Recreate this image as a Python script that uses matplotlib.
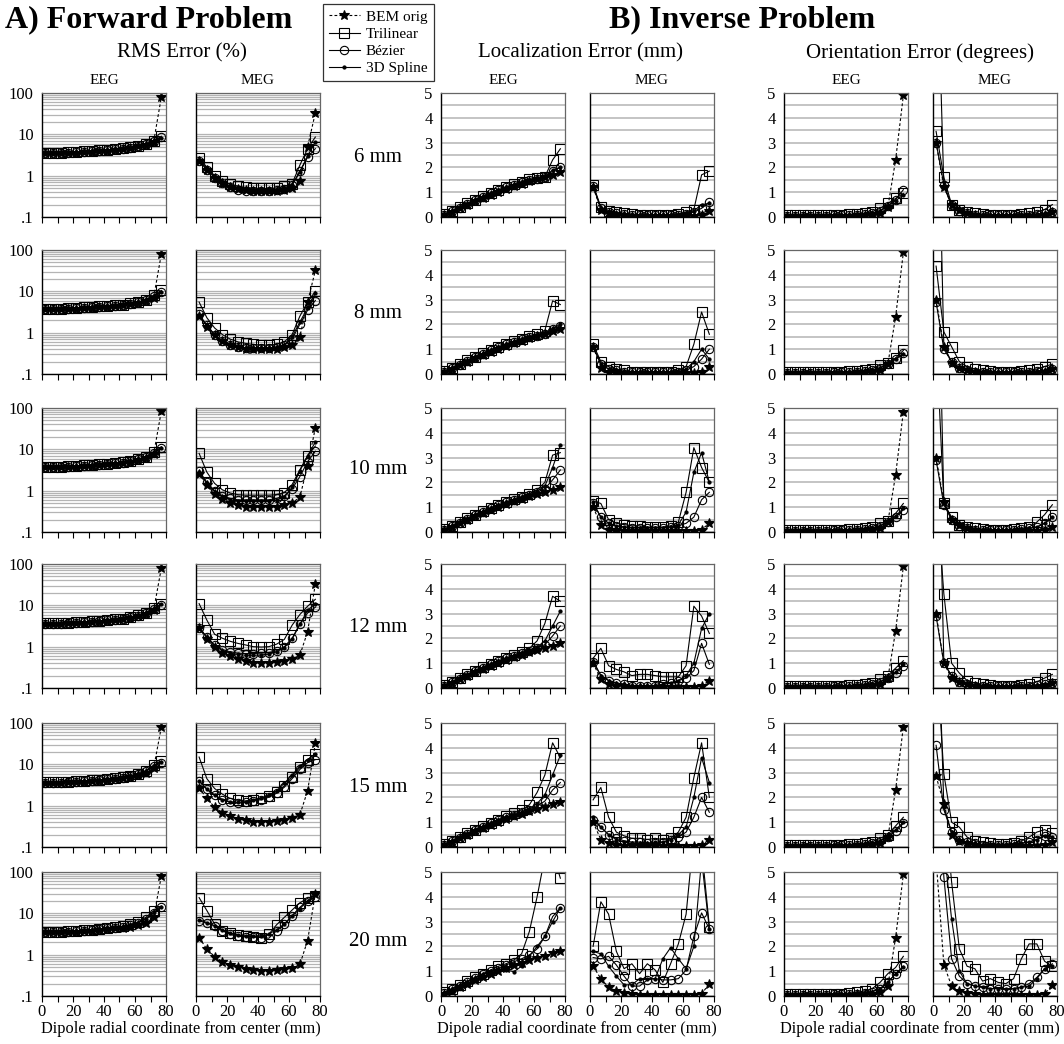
"""
BEM vs. interpolated-surface error curves: forward (RMS) and inverse
(localization / orientation) errors vs dipole radial coordinate, for
six mesh sizes.  Writes out.png.
"""
import matplotlib

matplotlib.use('Agg')
import matplotlib.pyplot as plt
from matplotlib.ticker import FixedLocator, LogLocator, NullFormatter

plt.rcParams['font.family'] = 'serif'
plt.rcParams['font.serif'] = ['Liberation Serif', 'DejaVu Serif']

# --- data ---

XS = [2, 7, 12, 17, 22, 27, 32, 37, 42, 47, 52, 57, 62, 67, 72, 77]
ROW_LABELS = ['6 mm', '8 mm', '10 mm', '12 mm', '15 mm', '20 mm']
METHODS = ['BEM orig', 'Trilinear', 'Bézier', '3D Spline']

# RMS error (%), EEG
RMS_EEG_BEM = [
    [3.5, 3.5, 3.5, 3.6, 3.6, 3.7, 3.8, 3.9, 4.0, 4.2, 4.4, 4.7, 5.1, 5.6, 6.5, 80],
    [3.7, 3.7, 3.7, 3.8, 3.8, 3.9, 4.0, 4.1, 4.2, 4.4, 4.6, 4.9, 5.3, 5.9, 7.0, 80],
    [3.7, 3.7, 3.7, 3.8, 3.8, 3.9, 4.0, 4.1, 4.3, 4.5, 4.7, 5.0, 5.5, 6.2, 7.5, 85],
    [3.6, 3.6, 3.6, 3.7, 3.7, 3.8, 3.9, 4.0, 4.2, 4.4, 4.6, 4.9, 5.4, 6.1, 7.5, 80],
    [3.6, 3.6, 3.6, 3.7, 3.7, 3.8, 3.9, 4.0, 4.2, 4.4, 4.6, 4.9, 5.4, 6.2, 8.0, 80],
    [3.5, 3.5, 3.5, 3.6, 3.6, 3.7, 3.8, 3.9, 4.1, 4.3, 4.5, 4.8, 5.2, 5.8, 8.0, 80],
]
RMS_EEG_TRI = [
    [3.6, 3.6, 3.6, 3.7, 3.8, 3.9, 4.0, 4.1, 4.2, 4.4, 4.6, 4.9, 5.3, 5.9, 7.0, 9.0],
    [3.8, 3.8, 3.8, 3.9, 4.0, 4.1, 4.2, 4.3, 4.4, 4.6, 4.8, 5.1, 5.5, 6.3, 8.0, 10.5],
    [3.8, 3.8, 3.8, 3.9, 4.0, 4.1, 4.2, 4.3, 4.5, 4.7, 4.9, 5.3, 5.8, 6.7, 8.5, 11.5],
    [3.7, 3.7, 3.7, 3.8, 3.9, 4.0, 4.1, 4.2, 4.4, 4.6, 4.8, 5.2, 5.7, 6.7, 8.5, 11],
    [3.7, 3.7, 3.7, 3.8, 3.9, 4.0, 4.1, 4.2, 4.4, 4.6, 4.9, 5.3, 5.9, 7.0, 9.5, 12],
    [3.6, 3.6, 3.6, 3.7, 3.8, 3.9, 4.0, 4.2, 4.4, 4.6, 4.9, 5.4, 6.2, 8.0, 11.5, 15],
]
RMS_EEG_BEZ = [
    [3.5, 3.5, 3.5, 3.6, 3.7, 3.8, 3.9, 4.0, 4.1, 4.3, 4.5, 4.8, 5.2, 5.8, 6.8, 8.5],
    [3.7, 3.7, 3.7, 3.8, 3.9, 4.0, 4.1, 4.2, 4.3, 4.5, 4.7, 5.0, 5.4, 6.1, 7.6, 9.5],
    [3.7, 3.7, 3.7, 3.8, 3.9, 4.0, 4.1, 4.2, 4.4, 4.6, 4.8, 5.2, 5.7, 6.5, 8.0, 10.5],
    [3.6, 3.6, 3.6, 3.7, 3.8, 3.9, 4.0, 4.1, 4.3, 4.5, 4.7, 5.1, 5.6, 6.4, 8.0, 10],
    [3.6, 3.6, 3.6, 3.7, 3.8, 3.9, 4.0, 4.1, 4.3, 4.5, 4.8, 5.2, 5.8, 6.8, 9.0, 11],
    [3.5, 3.5, 3.5, 3.6, 3.7, 3.8, 3.9, 4.1, 4.3, 4.5, 4.8, 5.2, 5.9, 7.2, 10, 14],
]
RMS_EEG_SPL = [
    [3.5, 3.5, 3.5, 3.6, 3.7, 3.8, 3.9, 4.0, 4.1, 4.3, 4.5, 4.8, 5.2, 5.8, 6.8, 8.2],
    [3.7, 3.7, 3.7, 3.8, 3.9, 4.0, 4.1, 4.2, 4.3, 4.5, 4.7, 5.0, 5.4, 6.1, 7.8, 9.8],
    [3.7, 3.7, 3.7, 3.8, 3.9, 4.0, 4.1, 4.2, 4.4, 4.6, 4.8, 5.2, 5.7, 6.6, 8.4, 11],
    [3.6, 3.6, 3.6, 3.7, 3.8, 3.9, 4.0, 4.1, 4.3, 4.5, 4.7, 5.1, 5.6, 6.5, 8.3, 10.5],
    [3.6, 3.6, 3.6, 3.7, 3.8, 3.9, 4.0, 4.1, 4.3, 4.5, 4.8, 5.2, 5.8, 6.9, 9.2, 11.5],
    [3.5, 3.5, 3.5, 3.6, 3.7, 3.8, 3.9, 4.1, 4.3, 4.5, 4.8, 5.2, 5.9, 7.4, 10.5, 14.5],
]

# RMS error (%), MEG
RMS_MEG_BEM = [
    [2.3, 1.4, 0.9, 0.66, 0.53, 0.47, 0.44, 0.42, 0.42, 0.42, 0.43, 0.46, 0.5, 0.75, 5.0, 33],
    [2.5, 1.4, 0.86, 0.62, 0.5, 0.44, 0.41, 0.4, 0.4, 0.4, 0.41, 0.44, 0.5, 0.8, 5.5, 32],
    [2.6, 1.4, 0.85, 0.62, 0.5, 0.44, 0.41, 0.4, 0.4, 0.4, 0.41, 0.44, 0.5, 0.7, 4.0, 33],
    [2.8, 1.55, 0.97, 0.7, 0.6, 0.5, 0.44, 0.41, 0.41, 0.41, 0.42, 0.45, 0.5, 0.62, 2.3, 33],
    [2.7, 1.5, 0.92, 0.68, 0.56, 0.48, 0.44, 0.41, 0.41, 0.41, 0.42, 0.45, 0.5, 0.6, 2.3, 32],
    [2.6, 1.36, 0.9, 0.68, 0.56, 0.49, 0.45, 0.42, 0.41, 0.41, 0.42, 0.44, 0.47, 0.58, 2.2, 30],
]
RMS_MEG_TRI = [
    [2.7, 1.6, 1.0, 0.75, 0.62, 0.56, 0.52, 0.5, 0.49, 0.49, 0.5, 0.55, 0.64, 1.8, 4.5, 8.6],
    [5.5, 2.3, 1.3, 0.9, 0.7, 0.6, 0.55, 0.52, 0.5, 0.5, 0.52, 0.6, 0.9, 2.5, 5.5, 10],
    [8.0, 2.8, 1.5, 1.05, 0.88, 0.8, 0.78, 0.78, 0.78, 0.78, 0.8, 0.9, 1.4, 3.2, 7.0, 12],
    [11, 4.4, 2.0, 1.6, 1.35, 1.2, 1.1, 1.0, 0.98, 1.0, 1.15, 1.5, 3.3, 6.0, 9.5, 14],
    [15, 4.5, 2.6, 1.9, 1.5, 1.35, 1.3, 1.4, 1.5, 1.7, 2.1, 3.0, 5.0, 8.5, 13, 18],
    [24, 11.7, 5.5, 3.8, 3.3, 3.0, 2.8, 2.7, 2.6, 3.1, 5.3, 8.0, 12, 18, 23, 27],
]
RMS_MEG_BEZ = [
    [2.3, 1.4, 0.9, 0.65, 0.52, 0.46, 0.43, 0.42, 0.42, 0.42, 0.44, 0.48, 0.58, 1.3, 2.8, 4.5],
    [2.8, 1.5, 0.9, 0.62, 0.5, 0.45, 0.42, 0.42, 0.42, 0.42, 0.45, 0.5, 0.7, 1.6, 3.5, 6.0],
    [3.0, 1.6, 1.0, 0.75, 0.65, 0.6, 0.6, 0.6, 0.6, 0.6, 0.65, 0.75, 1.1, 2.2, 5.0, 9.0],
    [2.9, 1.7, 1.1, 0.85, 0.75, 0.7, 0.68, 0.68, 0.7, 0.72, 0.8, 1.0, 1.6, 3.5, 6.5, 9.0],
    [4.0, 2.5, 1.8, 1.4, 1.2, 1.15, 1.2, 1.3, 1.4, 1.6, 2.0, 2.8, 4.5, 7.5, 11, 13],
    [6.6, 5.8, 5.0, 3.8, 3.1, 2.8, 2.7, 2.7, 2.6, 2.5, 3.8, 5.5, 8.8, 14, 20, 25],
]
RMS_MEG_SPL = [
    [2.4, 1.5, 0.95, 0.7, 0.55, 0.48, 0.45, 0.44, 0.43, 0.43, 0.45, 0.5, 0.6, 1.2, 3.0, 6.5],
    [2.6, 1.5, 0.9, 0.62, 0.5, 0.45, 0.42, 0.42, 0.42, 0.42, 0.45, 0.5, 0.8, 1.8, 4.0, 9.0],
    [2.8, 1.5, 0.95, 0.7, 0.6, 0.55, 0.55, 0.55, 0.55, 0.55, 0.6, 0.7, 1.2, 3.0, 7.0, 15],
    [2.9, 1.7, 1.05, 0.8, 0.7, 0.65, 0.62, 0.62, 0.63, 0.66, 0.75, 0.95, 1.5, 3.5, 7.5, 11],
    [4.0, 2.5, 1.8, 1.4, 1.25, 1.2, 1.25, 1.35, 1.5, 1.8, 2.3, 3.5, 5.5, 9.0, 13, 18],
    [7.0, 6.0, 5.0, 4.0, 3.3, 3.0, 2.8, 2.8, 2.8, 3.2, 4.0, 5.5, 8.5, 13, 20, 30],
]

# Localization error (mm), EEG
LOC_EEG_BEM = [
    [0.1, 0.22, 0.36, 0.5, 0.64, 0.78, 0.9, 1.02, 1.14, 1.25, 1.35, 1.45, 1.52, 1.6, 1.7, 1.8],
    [0.1, 0.22, 0.36, 0.5, 0.64, 0.78, 0.9, 1.02, 1.14, 1.25, 1.35, 1.45, 1.52, 1.6, 1.72, 1.82],
    [0.1, 0.22, 0.36, 0.5, 0.64, 0.78, 0.9, 1.02, 1.14, 1.25, 1.35, 1.45, 1.52, 1.6, 1.7, 1.8],
    [0.1, 0.22, 0.36, 0.5, 0.64, 0.78, 0.9, 1.02, 1.14, 1.25, 1.35, 1.45, 1.52, 1.6, 1.7, 1.8],
    [0.1, 0.22, 0.36, 0.5, 0.64, 0.78, 0.9, 1.02, 1.14, 1.25, 1.35, 1.45, 1.52, 1.6, 1.72, 1.82],
    [0.1, 0.22, 0.36, 0.5, 0.64, 0.78, 0.9, 1.02, 1.14, 1.25, 1.35, 1.45, 1.55, 1.62, 1.72, 1.82],
]
LOC_EEG_TRI = [
    [0.12, 0.25, 0.4, 0.55, 0.7, 0.85, 0.98, 1.1, 1.22, 1.33, 1.43, 1.52, 1.58, 1.62, 2.3, 2.75],
    [0.12, 0.25, 0.4, 0.55, 0.7, 0.85, 0.98, 1.1, 1.22, 1.33, 1.43, 1.52, 1.6, 1.75, 2.95, 2.8],
    [0.12, 0.25, 0.4, 0.55, 0.7, 0.85, 0.98, 1.1, 1.22, 1.33, 1.43, 1.55, 1.7, 2.0, 3.1, 3.2],
    [0.12, 0.25, 0.4, 0.55, 0.7, 0.85, 0.98, 1.1, 1.22, 1.33, 1.45, 1.6, 1.9, 2.6, 3.7, 3.5],
    [0.12, 0.25, 0.4, 0.55, 0.7, 0.85, 0.98, 1.1, 1.25, 1.38, 1.5, 1.7, 2.2, 2.9, 4.2, 3.6],
    [0.15, 0.3, 0.45, 0.6, 0.75, 0.9, 1.05, 1.2, 1.3, 1.45, 1.7, 2.6, 4.0, 5.6, 5.8, 4.75],
]
LOC_EEG_BEZ = [
    [0.1, 0.23, 0.38, 0.53, 0.68, 0.82, 0.95, 1.07, 1.19, 1.3, 1.4, 1.5, 1.55, 1.6, 1.85, 2.0],
    [0.1, 0.23, 0.38, 0.53, 0.68, 0.82, 0.95, 1.07, 1.19, 1.3, 1.4, 1.5, 1.55, 1.62, 1.8, 1.95],
    [0.1, 0.23, 0.38, 0.53, 0.68, 0.82, 0.95, 1.07, 1.19, 1.3, 1.4, 1.5, 1.6, 1.75, 2.1, 2.5],
    [0.1, 0.23, 0.38, 0.53, 0.68, 0.82, 0.95, 1.07, 1.19, 1.3, 1.4, 1.5, 1.6, 1.75, 2.1, 2.5],
    [0.1, 0.23, 0.38, 0.53, 0.68, 0.82, 0.95, 1.07, 1.19, 1.3, 1.4, 1.5, 1.65, 1.85, 2.3, 2.6],
    [0.12, 0.27, 0.42, 0.57, 0.72, 0.87, 1.0, 1.12, 1.25, 1.38, 1.5, 1.65, 1.9, 2.4, 3.2, 3.55],
]
LOC_EEG_SPL = [
    [0.1, 0.23, 0.38, 0.53, 0.68, 0.82, 0.95, 1.07, 1.19, 1.3, 1.4, 1.5, 1.56, 1.62, 1.9, 2.0],
    [0.1, 0.23, 0.38, 0.53, 0.68, 0.82, 0.95, 1.07, 1.19, 1.3, 1.4, 1.5, 1.56, 1.65, 1.85, 2.0],
    [0.1, 0.23, 0.38, 0.53, 0.68, 0.82, 0.95, 1.07, 1.19, 1.3, 1.4, 1.5, 1.65, 1.85, 2.6, 3.5],
    [0.1, 0.23, 0.38, 0.53, 0.68, 0.82, 0.95, 1.07, 1.19, 1.3, 1.4, 1.52, 1.65, 1.9, 2.5, 3.1],
    [0.1, 0.23, 0.38, 0.53, 0.68, 0.82, 0.95, 1.07, 1.19, 1.3, 1.42, 1.55, 1.75, 2.1, 2.9, 3.7],
    [0.12, 0.27, 0.42, 0.57, 0.72, 0.87, 1.0, 1.1, 1.05, 0.98, 1.2, 1.6, 2.0, 2.4, 3.0, 3.55],
]

# Localization error (mm), MEG
LOC_MEG_BEM = [
    [1.2, 0.3, 0.15, 0.1, 0.08, 0.06, 0.05, 0.05, 0.05, 0.05, 0.05, 0.05, 0.05, 0.05, 0.1, 0.25],
    [1.1, 0.25, 0.1, 0.08, 0.06, 0.05, 0.05, 0.05, 0.05, 0.05, 0.05, 0.05, 0.05, 0.05, 0.08, 0.3],
    [1.0, 0.3, 0.1, 0.06, 0.05, 0.05, 0.05, 0.05, 0.05, 0.05, 0.05, 0.05, 0.05, 0.05, 0.1, 0.35],
    [1.0, 0.35, 0.15, 0.1, 0.08, 0.05, 0.05, 0.05, 0.05, 0.05, 0.05, 0.05, 0.05, 0.05, 0.08, 0.3],
    [1.0, 0.3, 0.15, 0.08, 0.05, 0.05, 0.05, 0.05, 0.05, 0.05, 0.05, 0.05, 0.05, 0.05, 0.08, 0.3],
    [1.2, 0.7, 0.35, 0.2, 0.12, 0.08, 0.06, 0.05, 0.05, 0.05, 0.05, 0.05, 0.05, 0.05, 0.08, 0.5],
]
LOC_MEG_TRI = [
    [1.3, 0.4, 0.25, 0.2, 0.15, 0.12, 0.1, 0.1, 0.1, 0.1, 0.1, 0.12, 0.2, 0.3, 1.7, 1.85],
    [1.2, 0.5, 0.3, 0.2, 0.15, 0.1, 0.1, 0.1, 0.1, 0.1, 0.1, 0.15, 0.3, 1.2, 2.5, 1.6],
    [1.25, 1.15, 0.5, 0.35, 0.3, 0.25, 0.25, 0.2, 0.2, 0.2, 0.25, 0.4, 1.6, 3.4, 2.6, 2.0],
    [1.2, 1.6, 0.9, 0.75, 0.65, 0.5, 0.55, 0.55, 0.5, 0.45, 0.45, 0.45, 0.9, 3.3, 2.9, 2.2],
    [1.9, 2.4, 1.2, 0.6, 0.45, 0.35, 0.35, 0.3, 0.35, 0.3, 0.35, 0.6, 1.2, 2.8, 4.2, 2.0],
    [2.0, 3.8, 3.3, 1.8, 1.1, 1.3, 0.9, 1.3, 1.05, 0.55, 1.3, 2.1, 3.3, 6.5, 6.0, 2.8],
]
LOC_MEG_BEZ = [
    [1.25, 0.35, 0.2, 0.15, 0.12, 0.1, 0.08, 0.08, 0.08, 0.08, 0.08, 0.1, 0.12, 0.2, 0.35, 0.6],
    [1.1, 0.4, 0.2, 0.15, 0.1, 0.08, 0.08, 0.08, 0.08, 0.08, 0.08, 0.1, 0.15, 0.3, 0.6, 1.0],
    [1.15, 0.6, 0.35, 0.25, 0.2, 0.18, 0.18, 0.18, 0.18, 0.18, 0.2, 0.25, 0.35, 0.6, 1.3, 1.6],
    [1.05, 0.5, 0.3, 0.2, 0.15, 0.1, 0.1, 0.1, 0.1, 0.15, 0.2, 0.3, 0.4, 0.7, 1.8, 0.95],
    [1.1, 0.8, 0.5, 0.35, 0.25, 0.2, 0.2, 0.15, 0.15, 0.2, 0.3, 0.4, 0.6, 1.2, 2.0, 1.4],
    [1.55, 1.5, 1.6, 1.25, 0.8, 0.4, 0.4, 0.65, 0.7, 0.65, 0.65, 0.7, 1.05, 2.4, 3.35, 2.7],
]
LOC_MEG_SPL = [
    [1.25, 0.35, 0.2, 0.15, 0.12, 0.1, 0.08, 0.08, 0.08, 0.08, 0.08, 0.1, 0.15, 0.25, 0.5, 0.55],
    [1.1, 0.4, 0.2, 0.15, 0.1, 0.08, 0.08, 0.08, 0.08, 0.08, 0.08, 0.1, 0.2, 0.5, 1.0, 0.6],
    [1.2, 0.6, 0.35, 0.25, 0.2, 0.18, 0.18, 0.18, 0.18, 0.18, 0.2, 0.3, 0.8, 2.4, 3.2, 2.0],
    [1.1, 0.5, 0.3, 0.2, 0.15, 0.1, 0.1, 0.1, 0.1, 0.15, 0.2, 0.3, 0.5, 1.0, 2.4, 3.0],
    [1.2, 0.8, 0.5, 0.3, 0.2, 0.15, 0.15, 0.15, 0.2, 0.2, 0.3, 0.5, 0.8, 2.0, 3.6, 2.6],
    [1.8, 1.7, 1.2, 0.8, 0.45, 0.45, 0.7, 0.7, 0.7, 1.5, 1.95, 1.5, 1.1, 2.0, 5.5, 2.7],
]

# Orientation error (degrees), EEG
ORI_EEG_BEM = [
    [0.05, 0.05, 0.05, 0.05, 0.05, 0.05, 0.05, 0.05, 0.06, 0.07, 0.08, 0.1, 0.15, 0.4, 2.3, 4.9],
    [0.05, 0.05, 0.05, 0.05, 0.05, 0.05, 0.05, 0.05, 0.06, 0.07, 0.08, 0.1, 0.15, 0.4, 2.3, 4.9],
    [0.05, 0.05, 0.05, 0.05, 0.05, 0.05, 0.05, 0.05, 0.06, 0.07, 0.08, 0.1, 0.15, 0.4, 2.3, 4.85],
    [0.05, 0.05, 0.05, 0.05, 0.05, 0.05, 0.05, 0.05, 0.06, 0.07, 0.08, 0.1, 0.15, 0.4, 2.3, 4.9],
    [0.05, 0.05, 0.05, 0.05, 0.05, 0.05, 0.05, 0.05, 0.06, 0.07, 0.08, 0.1, 0.15, 0.4, 2.3, 4.85],
    [0.05, 0.05, 0.05, 0.05, 0.05, 0.05, 0.05, 0.05, 0.06, 0.07, 0.08, 0.1, 0.15, 0.4, 2.35, 4.9],
]
ORI_EEG_TRI = [
    [0.08, 0.08, 0.08, 0.08, 0.08, 0.08, 0.09, 0.1, 0.11, 0.13, 0.16, 0.22, 0.35, 0.55, 0.75, 0.95],
    [0.08, 0.08, 0.08, 0.08, 0.08, 0.08, 0.09, 0.1, 0.11, 0.13, 0.16, 0.22, 0.35, 0.45, 0.65, 0.95],
    [0.08, 0.08, 0.08, 0.08, 0.08, 0.08, 0.09, 0.1, 0.11, 0.13, 0.16, 0.22, 0.35, 0.45, 0.75, 1.15],
    [0.08, 0.08, 0.08, 0.08, 0.08, 0.08, 0.09, 0.1, 0.11, 0.13, 0.16, 0.22, 0.35, 0.5, 0.8, 1.1],
    [0.08, 0.08, 0.08, 0.08, 0.08, 0.08, 0.09, 0.1, 0.11, 0.13, 0.16, 0.22, 0.35, 0.5, 0.85, 1.2],
    [0.1, 0.1, 0.1, 0.1, 0.1, 0.1, 0.1, 0.1, 0.12, 0.15, 0.2, 0.3, 0.55, 0.9, 1.15, 1.6],
]
ORI_EEG_BEZ = [
    [0.06, 0.06, 0.06, 0.06, 0.06, 0.06, 0.07, 0.08, 0.09, 0.1, 0.12, 0.16, 0.25, 0.45, 0.7, 1.1],
    [0.06, 0.06, 0.06, 0.06, 0.06, 0.06, 0.07, 0.08, 0.09, 0.1, 0.12, 0.16, 0.25, 0.4, 0.6, 0.85],
    [0.06, 0.06, 0.06, 0.06, 0.06, 0.06, 0.07, 0.08, 0.09, 0.1, 0.12, 0.16, 0.25, 0.4, 0.6, 0.9],
    [0.06, 0.06, 0.06, 0.06, 0.06, 0.06, 0.07, 0.08, 0.09, 0.1, 0.12, 0.16, 0.25, 0.4, 0.6, 0.9],
    [0.06, 0.06, 0.06, 0.06, 0.06, 0.06, 0.07, 0.08, 0.09, 0.1, 0.12, 0.16, 0.25, 0.4, 0.65, 0.95],
    [0.06, 0.06, 0.06, 0.06, 0.06, 0.06, 0.07, 0.08, 0.09, 0.1, 0.12, 0.18, 0.3, 0.55, 0.9, 1.2],
]
ORI_EEG_SPL = [
    [0.06, 0.06, 0.06, 0.06, 0.06, 0.06, 0.07, 0.08, 0.09, 0.1, 0.12, 0.16, 0.25, 0.45, 0.65, 0.9],
    [0.06, 0.06, 0.06, 0.06, 0.06, 0.06, 0.07, 0.08, 0.09, 0.1, 0.12, 0.16, 0.25, 0.4, 0.6, 0.8],
    [0.06, 0.06, 0.06, 0.06, 0.06, 0.06, 0.07, 0.08, 0.09, 0.1, 0.12, 0.16, 0.25, 0.4, 0.65, 0.95],
    [0.06, 0.06, 0.06, 0.06, 0.06, 0.06, 0.07, 0.08, 0.09, 0.1, 0.12, 0.16, 0.25, 0.4, 0.65, 0.95],
    [0.06, 0.06, 0.06, 0.06, 0.06, 0.06, 0.07, 0.08, 0.09, 0.1, 0.12, 0.16, 0.25, 0.45, 0.7, 1.0],
    [0.06, 0.06, 0.06, 0.06, 0.06, 0.06, 0.07, 0.08, 0.09, 0.1, 0.12, 0.18, 0.3, 0.55, 0.9, 1.15],
]

# Orientation error (degrees), MEG
ORI_MEG_BEM = [
    [3.0, 1.2, 0.5, 0.3, 0.15, 0.1, 0.05, 0.05, 0.05, 0.05, 0.05, 0.05, 0.05, 0.06, 0.1, 0.2],
    [3.0, 1.1, 0.45, 0.25, 0.15, 0.1, 0.05, 0.05, 0.05, 0.05, 0.05, 0.05, 0.05, 0.06, 0.1, 0.2],
    [3.0, 1.2, 0.5, 0.3, 0.15, 0.1, 0.05, 0.05, 0.05, 0.05, 0.05, 0.05, 0.05, 0.06, 0.1, 0.2],
    [3.0, 1.0, 0.4, 0.25, 0.15, 0.1, 0.05, 0.05, 0.05, 0.05, 0.05, 0.05, 0.05, 0.06, 0.1, 0.2],
    [2.85, 1.75, 0.5, 0.25, 0.15, 0.1, 0.05, 0.05, 0.05, 0.05, 0.05, 0.05, 0.05, 0.06, 0.1, 0.2],
    [5.5, 1.27, 0.4, 0.2, 0.12, 0.08, 0.05, 0.05, 0.05, 0.05, 0.05, 0.05, 0.05, 0.05, 0.08, 0.45],
]
ORI_MEG_TRI = [
    [3.45, 1.6, 0.5, 0.3, 0.2, 0.15, 0.12, 0.1, 0.1, 0.1, 0.1, 0.12, 0.15, 0.2, 0.3, 0.5],
    [4.35, 1.7, 1.1, 0.5, 0.3, 0.2, 0.15, 0.12, 0.1, 0.1, 0.1, 0.12, 0.15, 0.2, 0.3, 0.4],
    [8.0, 1.15, 0.6, 0.3, 0.2, 0.15, 0.12, 0.1, 0.1, 0.1, 0.12, 0.15, 0.2, 0.4, 0.7, 1.1],
    [8.0, 3.8, 1.0, 0.6, 0.3, 0.2, 0.15, 0.12, 0.1, 0.1, 0.1, 0.12, 0.15, 0.25, 0.4, 0.55],
    [8.0, 2.95, 1.0, 0.8, 0.4, 0.25, 0.2, 0.15, 0.12, 0.12, 0.15, 0.25, 0.4, 0.6, 0.7, 0.55],
    [15, 8.0, 4.6, 1.9, 1.2, 1.1, 0.6, 0.7, 0.55, 0.5, 0.7, 1.5, 2.1, 2.1, 1.4, 1.2],
]
ORI_MEG_BEZ = [
    [3.0, 1.3, 0.5, 0.25, 0.15, 0.1, 0.08, 0.08, 0.08, 0.08, 0.08, 0.08, 0.1, 0.12, 0.15, 0.2],
    [2.9, 1.0, 0.5, 0.25, 0.15, 0.1, 0.08, 0.08, 0.08, 0.08, 0.08, 0.08, 0.1, 0.12, 0.15, 0.2],
    [2.9, 1.1, 0.5, 0.25, 0.15, 0.1, 0.08, 0.08, 0.08, 0.08, 0.1, 0.12, 0.15, 0.2, 0.35, 0.6],
    [2.9, 1.0, 0.5, 0.25, 0.15, 0.1, 0.08, 0.08, 0.08, 0.08, 0.08, 0.08, 0.1, 0.12, 0.15, 0.2],
    [4.1, 1.5, 0.6, 0.3, 0.2, 0.15, 0.1, 0.1, 0.1, 0.1, 0.12, 0.15, 0.2, 0.3, 0.45, 0.4],
    [12, 4.8, 1.5, 0.8, 0.5, 0.4, 0.35, 0.3, 0.3, 0.3, 0.3, 0.35, 0.5, 0.75, 1.1, 1.3],
]
ORI_MEG_SPL = [
    [12, 1.25, 0.45, 0.25, 0.15, 0.1, 0.08, 0.08, 0.08, 0.08, 0.08, 0.08, 0.1, 0.12, 0.15, 0.2],
    [15, 1.1, 0.5, 0.25, 0.15, 0.1, 0.08, 0.08, 0.08, 0.08, 0.08, 0.08, 0.1, 0.12, 0.15, 0.2],
    [15, 1.2, 0.5, 0.25, 0.15, 0.1, 0.08, 0.08, 0.08, 0.08, 0.1, 0.12, 0.15, 0.2, 0.35, 0.6],
    [15, 1.0, 0.5, 0.25, 0.15, 0.1, 0.08, 0.08, 0.08, 0.08, 0.08, 0.08, 0.1, 0.12, 0.15, 0.2],
    [12, 1.6, 0.6, 0.3, 0.2, 0.15, 0.1, 0.1, 0.1, 0.1, 0.12, 0.15, 0.2, 0.3, 0.45, 0.4],
    [15, 6.0, 3.1, 1.0, 0.5, 0.4, 0.35, 0.3, 0.3, 0.3, 0.3, 0.35, 0.4, 0.7, 1.1, 1.2],
]

# one entry per panel column: (series of 4 methods, log axis?, show y labels?)
COLUMNS = [
    ([RMS_EEG_BEM, RMS_EEG_TRI, RMS_EEG_BEZ, RMS_EEG_SPL], True, True),
    ([RMS_MEG_BEM, RMS_MEG_TRI, RMS_MEG_BEZ, RMS_MEG_SPL], True, False),
    ([LOC_EEG_BEM, LOC_EEG_TRI, LOC_EEG_BEZ, LOC_EEG_SPL], False, True),
    ([LOC_MEG_BEM, LOC_MEG_TRI, LOC_MEG_BEZ, LOC_MEG_SPL], False, False),
    ([ORI_EEG_BEM, ORI_EEG_TRI, ORI_EEG_BEZ, ORI_EEG_SPL], False, True),
    ([ORI_MEG_BEM, ORI_MEG_TRI, ORI_MEG_BEZ, ORI_MEG_SPL], False, False),
]

# --- layout (pixels of a 1064 x 1044 canvas) ---
W, H = 1064, 1044
COL_LEFT = [42, 196, 441, 590, 784, 933]
ROW_TOP = [93, 250, 408, 564, 723, 872]
ROW_LABEL_Y = [157, 313, 470, 627, 788, 942]
XLABEL_X = [181, 577, 920]
PW, PH = 124, 124
GRID_C = '#b4b4b4'

STYLES = [
    dict(marker='*', linestyle='--', markersize=7, markerfacecolor='black', dashes=(2.5, 2)),
    dict(marker='s', linestyle='-', markersize=7.5, markerfacecolor='none'),
    dict(marker='o', linestyle='-', markersize=6, markerfacecolor='none'),
    dict(marker='.', linestyle='-', markersize=4.5, markerfacecolor='black'),
]


def fx(px):
    return px / W


def fy(py):
    return 1 - py / H


fig = plt.figure(figsize=(W / 100, H / 100), dpi=100)

handles = None
for c, (series, is_log, ylab) in enumerate(COLUMNS):
    for r in range(6):
        ax = fig.add_axes([fx(COL_LEFT[c]), fy(ROW_TOP[r] + PH), PW / W, PH / H])
        lines = []
        for m, data in enumerate(series):
            ln, = ax.plot(XS, data[r], color='black', linewidth=0.8,
                          markeredgecolor='black', markeredgewidth=0.8,
                          label=METHODS[m], **STYLES[m])
            lines.append(ln)
        if handles is None:
            handles = lines

        ax.set_xlim(0, 80)
        ax.set_xticks(range(0, 81, 10))
        if r == 5:
            ax.set_xticklabels(['0', '', '20', '', '40', '', '60', '', '80'])
        else:
            ax.set_xticklabels([])
        ax.tick_params(axis='x', direction='out', length=4, width=0.8,
                       labelsize=12, pad=2)

        if is_log:
            ax.set_yscale('log')
            ax.set_ylim(0.1, 100)
            ax.yaxis.set_major_locator(FixedLocator([0.1, 1, 10, 100]))
            ax.yaxis.set_minor_locator(LogLocator(base=10, subs=range(2, 10)))
            ax.yaxis.set_minor_formatter(NullFormatter())
            ax.set_yticklabels(['.1', '1', '10', '100'] if ylab else [])
            ax.grid(True, axis='y', which='both', color=GRID_C, linewidth=0.9)
        else:
            ax.set_ylim(0, 5)
            ax.set_yticks(range(0, 6))
            ax.set_yticks([k + 0.5 for k in range(5)], minor=True)
            ax.set_yticklabels([str(k) for k in range(6)] if ylab else [])
            ax.grid(True, axis='y', which='both', color=GRID_C, linewidth=1.1)
        ax.tick_params(axis='y', which='both', length=0, labelsize=12, pad=6)
        ax.set_axisbelow(True)

        for side in ('top', 'right'):
            ax.spines[side].set_color('#666666')
            ax.spines[side].set_linewidth(0.9)
        for side in ('left', 'bottom'):
            ax.spines[side].set_color('black')
            ax.spines[side].set_linewidth(1.0)

# headings
fig.text(fx(5), fy(20), 'A) Forward Problem', fontsize=23, fontweight='bold',
         ha='left', va='center')
fig.text(fx(742), fy(20), 'B) Inverse Problem', fontsize=23, fontweight='bold',
         ha='center', va='center')
fig.text(fx(182), fy(53), 'RMS Error (%)', fontsize=15, ha='center', va='center')
fig.text(fx(580), fy(53), 'Localization Error (mm)', fontsize=15, ha='center', va='center')
fig.text(fx(920), fy(53), 'Orientation Error (degrees)', fontsize=15, ha='center', va='center')
for c in range(6):
    fig.text(fx(COL_LEFT[c] + PW / 2), fy(80), 'EEG' if c % 2 == 0 else 'MEG',
             fontsize=11, ha='center', va='center')

for lab, y in zip(ROW_LABELS, ROW_LABEL_Y):
    fig.text(fx(378), fy(y), lab, fontsize=15, ha='center', va='center')

for x in XLABEL_X:
    fig.text(fx(x), fy(1029), 'Dipole radial coordinate from center (mm)',
             fontsize=11.8, ha='center', va='center')

leg = fig.legend(handles=handles, labels=METHODS, loc='upper left',
                 bbox_to_anchor=(fx(323), fy(4)), fontsize=11, frameon=True,
                 fancybox=False, edgecolor='black', handlelength=2.0,
                 handletextpad=0.4, labelspacing=0.22, borderpad=0.4,
                 borderaxespad=0)
leg.get_frame().set_linewidth(0.9)

fig.savefig('out.png', dpi=100)
